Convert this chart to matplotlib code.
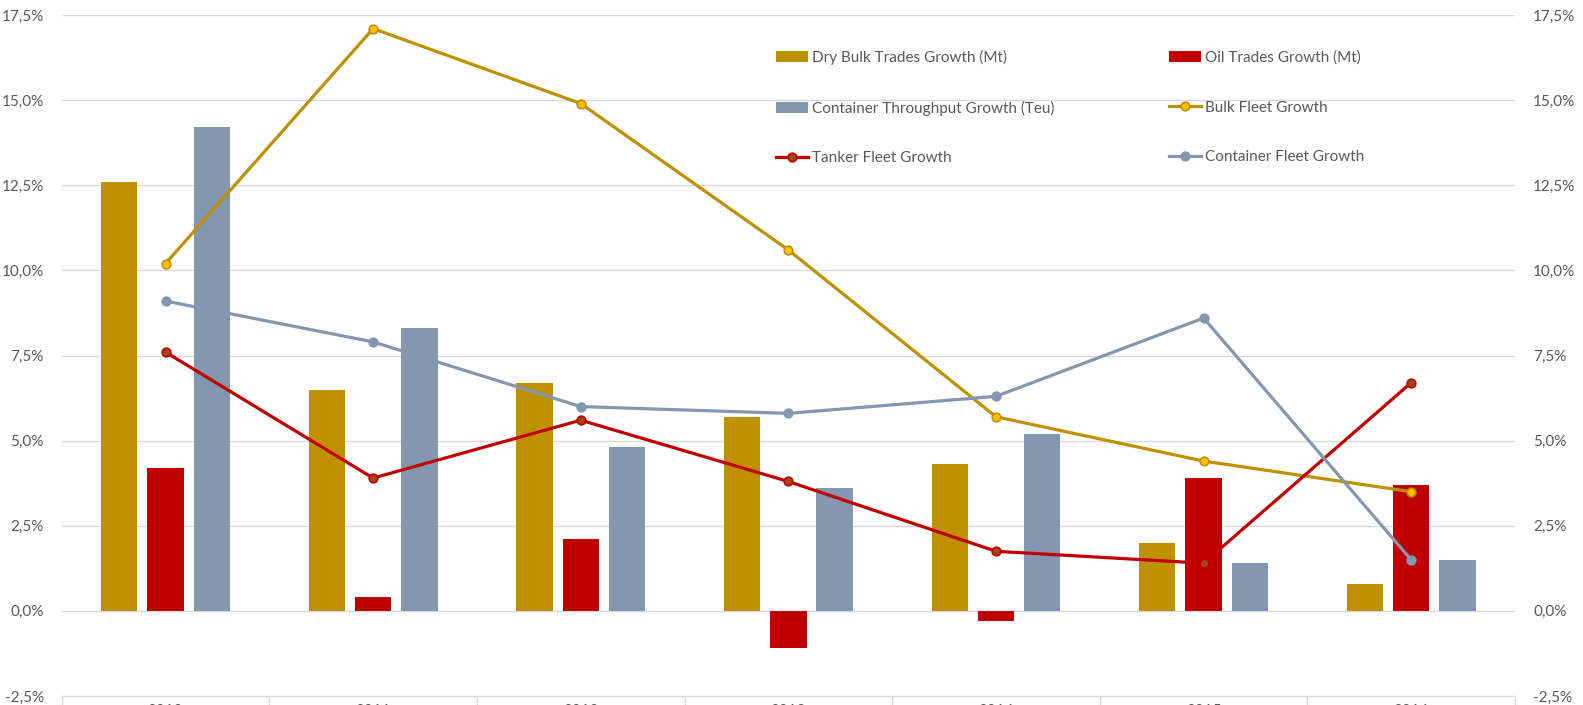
import matplotlib
matplotlib.use("Agg")
import matplotlib.pyplot as plt
import numpy as np
from matplotlib.ticker import FuncFormatter, FixedLocator

# growth rates, % per year
years = ["2010", "2011", "2012", "2013", "2014", "2015", "2016"]
dry_bulk_trades = [12.6, 6.5, 6.7, 5.7, 4.3, 2.0, 0.8]
oil_trades = [4.2, 0.4, 2.1, -1.1, -0.3, 3.9, 3.7]
container_throughput = [14.2, 8.3, 4.8, 3.6, 5.2, 1.4, 1.5]
bulk_fleet = [10.2, 17.1, 14.9, 10.6, 5.7, 4.4, 3.5]
tanker_fleet = [7.6, 3.9, 5.6, 3.8, 1.75, 1.4, 6.7]
container_fleet = [9.1, 7.9, 6.0, 5.8, 6.3, 8.6, 1.5]

GOLD = "#BF9000"
RED = "#C00000"
BLUE = "#8497B0"
TEXT = "#595959"
GRID = "#D9D9D9"

plt.rcParams['font.family'] = ['Lato', 'DejaVu Sans']
plt.rcParams['font.size'] = 11

W, H = 1583, 705
fig = plt.figure(figsize=(W / 100, H / 100), dpi=100)
left, right, top, bottom = 61.7, 1515, 15, 696
ax = fig.add_axes([left / W, 1 - bottom / H, (right - left) / W, (bottom - top) / H])

x = np.arange(len(years))
bw = 0.175
step = 0.223

ax.bar(x - step, dry_bulk_trades, bw, color=GOLD, label="Dry Bulk Trades Growth (Mt)", zorder=2)
ax.bar(x, oil_trades, bw, color=RED, label="Oil Trades Growth (Mt)", zorder=2)
ax.bar(x + step, container_throughput, bw, color=BLUE, label="Container Throughput Growth (Teu)", zorder=2)

ax2 = ax.twinx()
lkw = dict(lw=2.3, marker="o", ms=6.2, mew=1.2, zorder=3)
l1, = ax2.plot(x, bulk_fleet, color=GOLD, mfc="#FFC000", mec=GOLD, label="Bulk Fleet Growth", **lkw)
l2, = ax2.plot(x, tanker_fleet, color=RED, mfc="#A0471A", mec=RED, label="Tanker Fleet Growth", **lkw)
l3, = ax2.plot(x, container_fleet, color=BLUE, mfc=BLUE, mec=BLUE, label="Container Fleet Growth", **lkw)

pct = FuncFormatter(lambda v, p: f"{v:.1f}%".replace(".", ","))
for a in (ax, ax2):
    a.set_xlim(-0.5, len(years) - 0.5)
    a.set_ylim(-2.5, 17.5)
    a.set_yticks(np.arange(-2.5, 17.6, 2.5))
    a.yaxis.set_major_formatter(pct)
    a.tick_params(axis="y", length=0, labelsize=11, colors=TEXT, pad=13)
    for s in a.spines.values():
        s.set_visible(False)

ax.grid(axis="y", color=GRID, lw=1.0, zorder=0)
ax.set_axisbelow(True)

# category separators below the axis, year labels centred
ax.xaxis.set_major_locator(FixedLocator(np.arange(-0.5, len(years), 1.0)))
ax.xaxis.set_minor_locator(FixedLocator(x))
ax.set_xticklabels([], minor=False)
ax.set_xticklabels(years, minor=True)
ax.tick_params(axis="x", which="major", length=12, color=GRID, width=1.0)
ax.tick_params(axis="x", which="minor", length=0, pad=6, labelsize=11, colors=TEXT)
ax.spines["bottom"].set_visible(True)
ax.spines["bottom"].set_color(GRID)

bars = ax.get_legend_handles_labels()[0]
handles = [bars[0], bars[2], l2, bars[1], l1, l3]
labels = [h.get_label() for h in handles]
fig.legend(handles, labels, ncol=2, loc="upper left",
           bbox_to_anchor=(770 / W, 1 - 44 / H), frameon=False,
           fontsize=11, labelcolor=TEXT, labelspacing=2.32,
           handlelength=2.1, handletextpad=0.25, columnspacing=7.5,
           borderaxespad=0)

fig.savefig("out.png", dpi=100)
